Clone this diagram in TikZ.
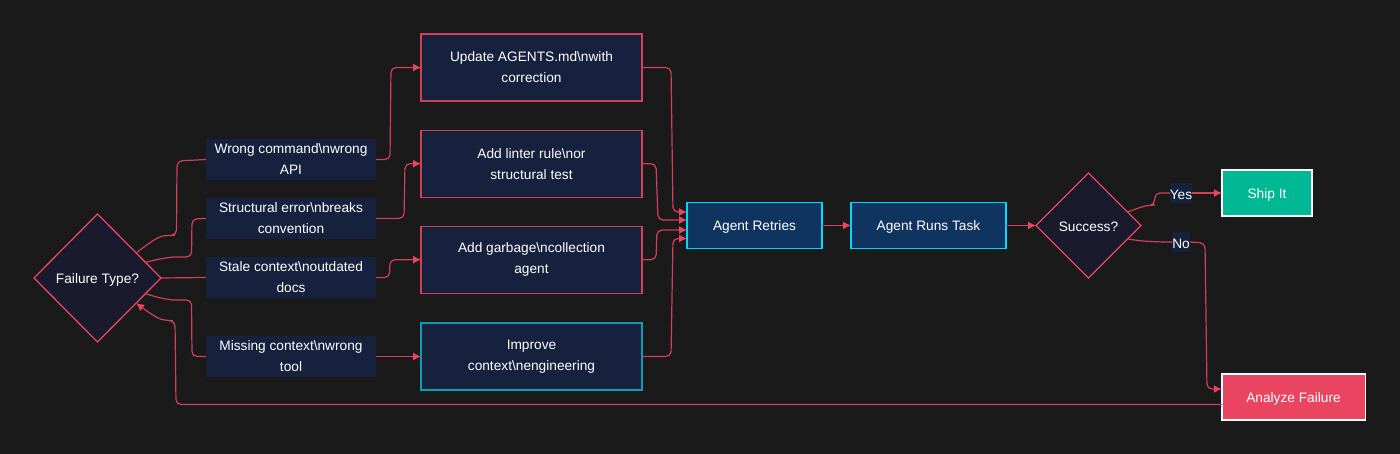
\documentclass[tikz,border=0pt]{standalone}
\usepackage{fontspec}
\setmainfont{Liberation Sans}
\usepackage{xcolor}
\usetikzlibrary{arrows.meta,shapes.geometric}

\definecolor{pagebg}{HTML}{1A1A1A}
\definecolor{boxfill}{HTML}{16213E}
\definecolor{diamfill}{HTML}{1A1A2E}
\definecolor{agentfill}{HTML}{0F3460}
\definecolor{rose}{HTML}{E94560}
\definecolor{rosedim}{HTML}{D23F58}
\definecolor{aqua}{HTML}{00D9FF}
\definecolor{aquadim}{HTML}{0F9DB5}
\definecolor{shipfill}{HTML}{00B894}

\tikzset{
  basenode/.style={rectangle, outer sep=0pt, inner sep=0pt, align=center, text=white, font=\fontsize{13.7}{21}\selectfont, execute at begin node={\rule{0pt}{13pt}}},
  twoline/.style={basenode, execute at begin node={\rule{0pt}{17pt}}},
  tagbox/.style={twoline, fill=boxfill, minimum width=170pt, minimum height=41pt},
  fixbox/.style={twoline, fill=boxfill, draw=rosedim, line width=1.1pt, minimum width=221pt, minimum height=67pt},
  agentbox/.style={basenode, fill=agentfill, draw=aqua, line width=1.5pt, minimum height=46pt},
  endbox/.style={basenode, draw=white, line width=1.5pt, minimum height=46pt},
  choice/.style={basenode, diamond, shape aspect=1, fill=diamfill, draw=rose, line width=1.3pt},
  edgetag/.style={basenode, fill=boxfill, minimum height=20pt},
  link/.style={draw=rosedim, line width=1.2pt, rounded corners=5pt, -{Latex[length=8pt,width=8pt,color=rose]}},
  plainlink/.style={link, -},
}

\begin{document}
\begin{tikzpicture}[x=1pt, y=-1pt]
    \fill[pagebg] (0, 0) rectangle (1400, 454);
    \useasboundingbox (0, 0) rectangle (1400, 454);

    \node[choice, minimum width=127pt, minimum height=128pt] (failure) at (97.5, 278) {Failure Type?};

    \foreach \name/\y/\txt in {
      wrong/159.5/{Wrong command\textbackslash nwrong\\API},
      structural/218.5/{Structural error\textbackslash nbreaks\\convention},
      stale/277.5/{Stale context\textbackslash noutdated\\docs},
      missing/356.5/{Missing context\textbackslash nwrong\\tool}} {
      \node[tagbox] (\name) at (291, \y) {\txt};
    }

    \node[fixbox] (update) at (531.5, 67.5) {Update AGENTS.md\textbackslash nwith\\correction};
    \node[fixbox] (linter) at (531.5, 163.7) {Add linter rule\textbackslash nor\\structural test};
    \node[fixbox] (garbage) at (531.5, 259.7) {Add garbage\textbackslash ncollection\\agent};
    \node[fixbox, draw=aquadim] (improve) at (531.5, 356.5) {Improve\\context\textbackslash nengineering};

    \node[agentbox, minimum width=135pt] (retries) at (754.5, 225.5) {Agent Retries};
    \node[agentbox, minimum width=155pt] (runs) at (928.5, 225.5) {Agent Runs Task};
    \node[choice, minimum width=105pt, minimum height=105pt] (success) at (1088.5, 225.5) {Success?};

    \node[endbox, fill=shipfill, minimum width=90pt] (ship) at (1267, 193) {Ship It};
    \node[endbox, fill=rose, minimum width=143.5pt] (analyze) at (1293.5, 397) {Analyze Failure};

    \node[edgetag, minimum width=22pt] (yes) at (1181, 193) {Yes};
    \node[edgetag, minimum width=18pt] (no) at (1181, 242) {No};

    \draw[plainlink] (failure.33) .. controls (148, 244) and (158, 236) .. (170, 235.5) -- (176.5, 235) -- (177, 161) -- (wrong.west);
    \draw[plainlink] (failure.18) .. controls (158, 259) and (170, 257) .. (180, 257) -- (191.5, 257) -- (192, 219) -- (structural.west);
    \draw[plainlink] (failure.east) -- (stale.west);
    \draw[plainlink] (failure.-18) .. controls (158, 298) and (170, 300) .. (180, 300) -- (191.5, 300) -- (192, 356.5) -- (missing.west);

    \draw[link] (wrong.east) -- (390, 159.5) -- (391, 67.5) -- (update.west);
    \draw[link] (structural.east) -- (404, 218.5) -- (405, 163.7) -- (linter.west);
    \draw[link] (stale.east) -- (389.5, 277.5) -- (390, 259.7) -- (garbage.west);
    \draw[link] (missing.east) -- (improve.west);

    \draw[link] (update.east) -- (671, 67.5) -- (673, 212) -- ([yshift=13.5pt]retries.west);
    \draw[link] (linter.east) -- (656, 163.7) -- (658, 220) -- ([yshift=5.5pt]retries.west);
    \draw[link] (garbage.east) -- (656, 259.7) -- (657, 230) -- ([yshift=-4.5pt]retries.west);
    \draw[link] (improve.east) -- (671, 356.5) -- (673, 238.5) -- ([yshift=-13pt]retries.west);

    \draw[link] (retries.east) -- (runs.west);
    \draw[link] (runs.east) -- (success.west);

    \draw[plainlink] (success.19) .. controls (1138, 208) and (1145, 206) .. (1150, 205.5) -- (1154.5, 205) -- (1155, 193) -- (yes.west);
    \draw[link] (yes.east) -- (ship.west);
    \draw[plainlink] (success.-19) .. controls (1140, 241) and (1150, 242) .. (no.west);
    \draw[link] (no.east) -- (1205, 243) -- (1207, 389) -- ([yshift=8pt]analyze.west);

    \draw[link] ([yshift=-7.5pt]analyze.west) -- (176, 404.5) -- (175, 321) -- (168, 320.5) .. controls (158, 319) and (148, 312) .. (failure.-33);
\end{tikzpicture}
\end{document}
